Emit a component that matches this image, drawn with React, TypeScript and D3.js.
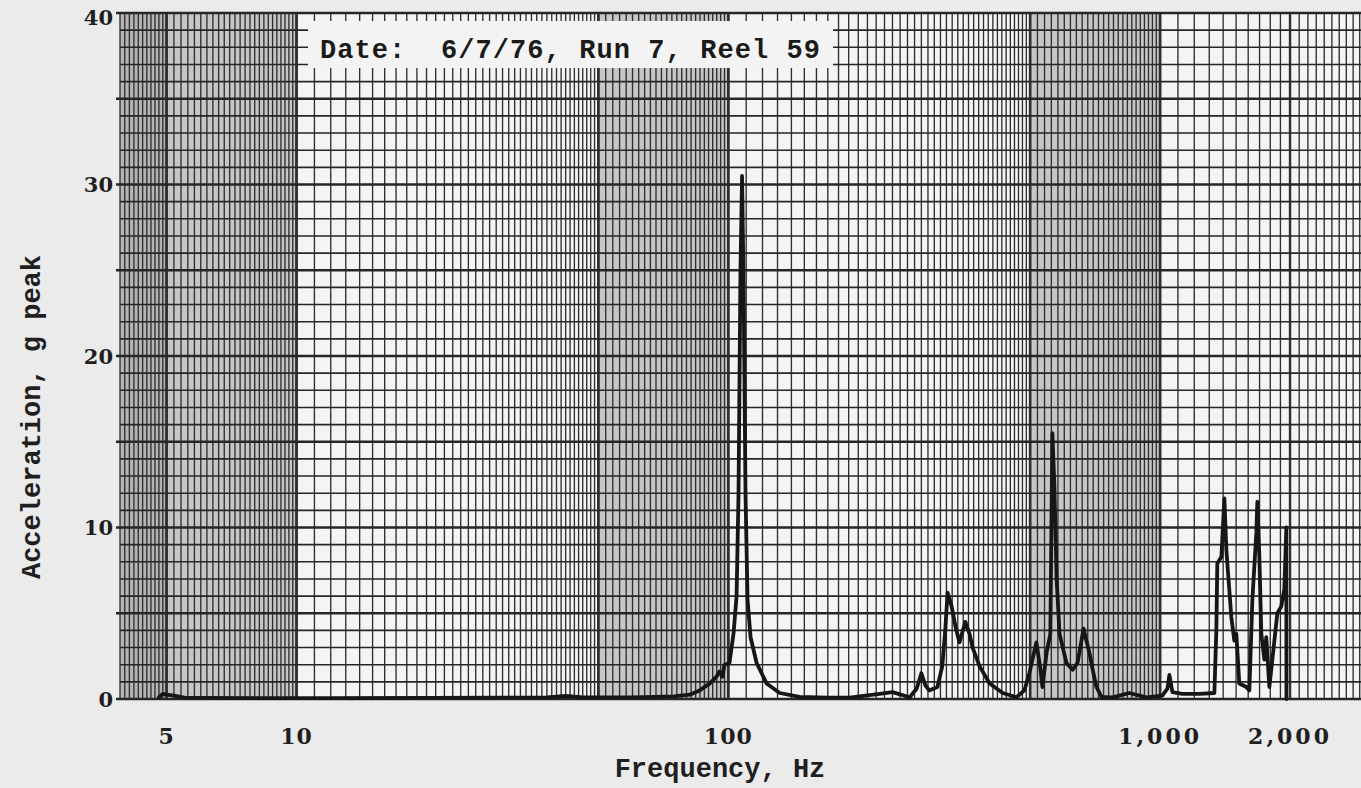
import * as d3 from 'd3'

// spectrum trace (Hz, g peak)
const freqHz = [
  4.8, 4.9, 5.0, 5.2, 5.5, 6, 8, 12, 20, 30,
  38, 42, 46, 60, 75, 81.4, 85.8, 90.5, 93.9, 95.4,
  96.9, 98.0, 100.6, 102.8, 104.5, 105.6, 106.7, 107.6, 108.5, 109.6,
  110.8, 112.6, 116.3, 122.7, 131.5, 146.2, 170, 191, 224, 240,
  263, 273, 280, 286, 292, 305, 313, 318, 322, 329,
  336, 343, 354, 362, 368, 382, 403, 432, 465, 485,
  498, 517, 528, 534, 546, 557, 563, 569, 576, 585,
  607, 627, 644, 665, 686, 697, 712, 732, 776, 849,
  930, 1012, 1040, 1051, 1068, 1126, 1233, 1336, 1350, 1357,
  1387, 1409, 1424, 1462, 1486, 1502, 1526, 1584, 1610, 1636,
  1671, 1680, 1698, 1716, 1744, 1762, 1791, 1820, 1869, 1909,
  1940, 1961, 1962,
]
const accelG = [
  0.1, 0.3, 0.25, 0.2, 0.08, 0.06, 0.05, 0.05, 0.06, 0.08,
  0.1, 0.18, 0.1, 0.1, 0.15, 0.25, 0.5, 0.9, 1.3, 1.6,
  1.3, 2.0, 2.1, 3.8, 6, 12, 25, 30.5, 24, 12,
  5.8, 3.6, 2.1, 0.9, 0.35, 0.12, 0.08, 0.08, 0.3, 0.4,
  0.1, 0.6, 1.5, 0.8, 0.5, 0.7, 1.9, 4.0, 6.2, 5.4,
  4.2, 3.3, 4.5, 3.8, 3.0, 1.9, 0.9, 0.35, 0.1, 0.5,
  1.5, 3.3, 1.8, 0.7, 2.7, 3.8, 15.5, 12.5, 7, 3.8,
  2.1, 1.7, 2.1, 4.1, 2.7, 1.8, 0.7, 0.12, 0.1, 0.35,
  0.1, 0.2, 0.6, 1.4, 0.4, 0.3, 0.3, 0.35, 4, 7.9,
  8.3, 11.7, 8.7, 4.8, 3.4, 3.8, 0.9, 0.7, 0.5, 5.8,
  9.7, 11.5, 8.3, 3.8, 2.3, 3.6, 0.7, 2.3, 5.0, 5.4,
  6.4, 10.0, 0,
]

const yTicks = [0, 10, 20, 30, 40]
const xTickValues = [5, 10, 100, 1000, 2000]
const xTickLabels = ['5', '10', '100', '1,000', '2,000']
const runLabel = 'Date:  6/7/76, Run 7, Reel 59'
const xTitle = 'Frequency, Hz'
const yTitle = 'Acceleration, g peak'

// log paper rulings: [from, to, step]
const rulings: [number, number, number][] = [
  [3.9, 5, 0.1],
  [5, 10, 0.2],
  [10, 50, 1],
  [50, 100, 2],
  [100, 500, 10],
  [500, 1000, 20],
  [1000, 2920, 100],
]
const shadedBands: [number, number, string][] = [
  [3.9, 5, '#b4b4b4'],
  [5, 10, '#c6c6c6'],
  [50, 100, '#c6c6c6'],
  [500, 1000, '#c6c6c6'],
]
const heavyLines = [5, 10, 50, 100, 500, 1000, 2000]

const W = 1361
const H = 788

export default function App() {
  const x = d3.scaleLog().domain([3.9, 2920]).range([120, W])
  const y = d3.scaleLinear().domain([0, 40]).range([699, 13])

  const vLines: number[] = []
  rulings.forEach(([a, b, s]) => {
    d3.range(a, b + s / 2, s).forEach(v => vLines.push(Math.round(v * 1000) / 1000))
  })
  const hLines = d3.range(0, 41)

  const line = d3.line<number>()
    .x((_, i) => x(freqHz[i]))
    .y(d => y(d))

  const mono = '"Liberation Mono", "DejaVu Sans Mono", monospace'
  const serif = '"DejaVu Serif", "Liberation Serif", serif'

  return (
    <svg width={W} height={H} style={{position: 'absolute', left: 0, top: 0, display: 'block'}}>
      <rect width={W} height={H} fill="#ebebeb" />
      <rect x={120} y={y(40)} width={W - 120} height={y(0) - y(40)} fill="#f4f4f4" />
      {shadedBands.map(([a, b, c], i) => (
        <rect key={i} x={x(a)} y={y(40)} width={x(b) - x(a)} height={y(0) - y(40)} fill={c} />
      ))}

      {/* vertical rulings */}
      <g stroke="#2f2f2f">
        {vLines.map((v, i) => (
          <line key={i} x1={x(v)} x2={x(v)} y1={y(40)} y2={y(0)}
            strokeWidth={heavyLines.includes(v) ? 2.4 : 1.35} />
        ))}
      </g>
      {/* horizontal rulings */}
      <g stroke="#262626">
        {hLines.map(v => (
          <line key={v} x1={v % 5 === 0 ? 116 : 120} x2={W} y1={y(v)} y2={y(v)}
            strokeWidth={v % 5 === 0 ? 2.4 : 1.6} />
        ))}
      </g>

      {/* run label box */}
      <rect x={308} y={21} width={525} height={47} fill="#f3f3f3" />
      <text x={320} y={58} fontFamily={mono} fontWeight="bold" fontSize={27}
        fill="#1a1a1a" textLength={500} lengthAdjust="spacing" style={{whiteSpace: 'pre'}}>
        {runLabel}
      </text>

      {/* trace */}
      <path d={line(accelG) || ''} fill="none" stroke="#161616" strokeWidth={3.8}
        strokeLinejoin="round" strokeLinecap="round" />

      {/* y ticks */}
      {yTicks.map(t => (
        <text key={t} x={113} y={y(t) + (t === 40 ? 6 : 2)} textAnchor="end" dominantBaseline="middle"
          fontFamily={serif} fontWeight="bold" fontSize={21} fill="#1f1f1f">
          {t}
        </text>
      ))}
      {/* x ticks */}
      {xTickValues.map((t, i) => (
        <text key={t} x={x(t)} y={744} textAnchor="middle"
          fontFamily={serif} fontWeight="bold" fontSize={22} fill="#1f1f1f"
          letterSpacing={xTickLabels[i].includes(',') ? 3 : 1}>
          {xTickLabels[i]}
        </text>
      ))}

      <text x={720} y={777} textAnchor="middle" fontFamily={mono} fontWeight="bold"
        fontSize={27} fill="#1f1f1f">
        {xTitle}
      </text>
      <text transform="translate(40,417) rotate(-90)" textAnchor="middle" fontFamily={mono}
        fontWeight="bold" fontSize={27} fill="#1f1f1f">
        {yTitle}
      </text>
    </svg>
  )
}
